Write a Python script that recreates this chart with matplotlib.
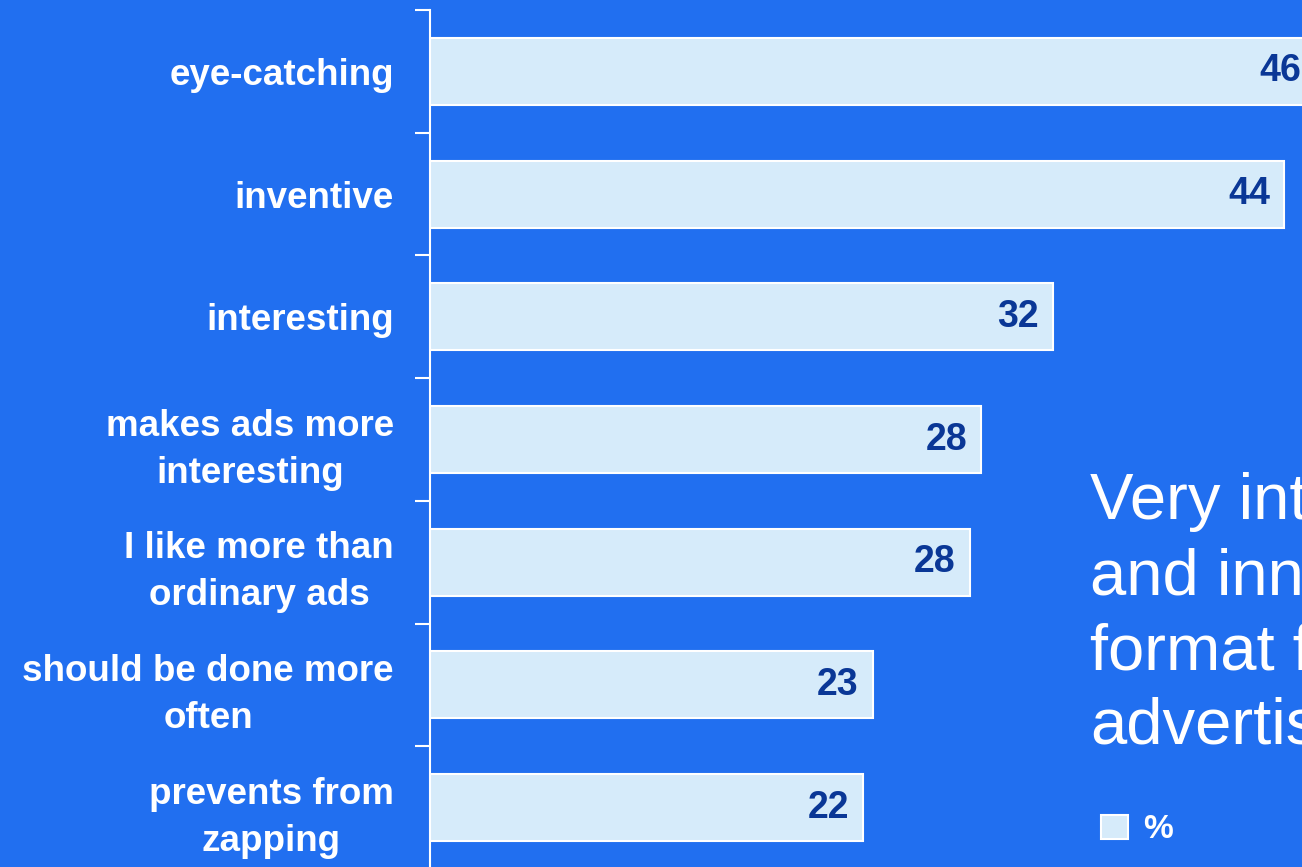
import matplotlib.pyplot as plt

# attributes rated for the ad format, shares in percent
categories = ['eye-catching', 'inventive', 'interesting',
              'makes ads more\ninteresting', 'I like more than\nordinary ads',
              'should be done more\noften', 'prevents from\nzapping']
values = [45.6, 44.0, 32.1, 28.4, 27.8, 22.8, 22.3]
labels = ['46', '44', '32', '28', '28', '23', '22']
legend_label = '%'
side_text = 'Very interesting\nand innovative\nformat for\nadvertising'

bg = '#216FF0'
bar_color = '#D6EBFA'
value_color = '#0A3796'

plt.rcParams['font.family'] = ['Liberation Sans', 'DejaVu Sans']

W, H = 1302, 867
fig = plt.figure(figsize=(W / 100, H / 100), dpi=100, facecolor=bg)

# axes spans from the y axis line to the right edge of the picture
ax = fig.add_axes([430 / W, (H - 869) / H, (W - 430) / W, 859 / H])
ax.set_facecolor(bg)

ypos = list(range(len(categories)))
bars = ax.barh(ypos, values, height=0.545, color=bar_color, edgecolor='white',
               linewidth=1.5, label=legend_label)

ax.set_xlim(0, 872 / 19.41)
ax.set_ylim(len(categories) - 0.5, -0.5)

for y, v, lab in zip(ypos, values, labels):
    ax.annotate(lab, xy=(v, y), xytext=(-10, 0), textcoords='offset points',
                ha='right', va='center', fontsize=27, fontweight='bold',
                color=value_color, annotation_clip=False)

# category names at bar centres, tick marks at the boundaries
ax.set_yticks(ypos)
ax.set_yticklabels(categories, fontsize=26.5, fontweight='bold', color='white',
                   multialignment='center', linespacing=1.45)
ax.set_yticks([y - 0.5 for y in ypos] + [len(categories) - 0.5], minor=True)
ax.tick_params(axis='y', which='major', length=0, pad=26)
ax.tick_params(axis='y', which='minor', length=11, width=1.5, color='white',
               direction='out')
ax.tick_params(axis='x', bottom=False, labelbottom=False)

for side in ['top', 'right', 'bottom']:
    ax.spines[side].set_visible(False)
ax.spines['left'].set_color('white')
ax.spines['left'].set_linewidth(1.5)

fig.text(1090 / W, 1 - 472 / H, side_text, ha='left', va='top', color='white',
         fontsize=47, linespacing=1.32)

fig.legend(handles=[bars], labels=[legend_label], loc='center left',
           bbox_to_anchor=(1101 / W, 1 - 830 / H), frameon=False,
           borderpad=0, borderaxespad=0, handlelength=0.8, handleheight=0.7,
           handletextpad=0.45,
           prop={'family': 'Liberation Sans', 'weight': 'bold', 'size': 24},
           labelcolor='white')

fig.savefig('out.png', dpi=100, facecolor=bg)
